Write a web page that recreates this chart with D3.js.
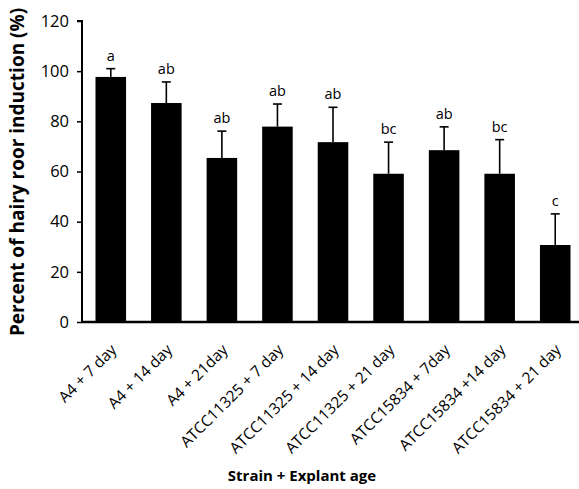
<!DOCTYPE html>
<html>
<head>
<meta charset="utf-8">
<script src="https://cdn.jsdelivr.net/npm/d3@7"></script>
<style>
  body { margin: 0; background: #fff; }
  text { font-family: "Open Sans", sans-serif; fill: #000; }
</style>
</head>
<body>
<div id="chart"></div>
<script>
// values
var groups = ['A4 + 7 day', 'A4 + 14 day', 'A4 + 21day', 'ATCC11325 + 7 day',
    'ATCC11325 + 14 day', 'ATCC11325 + 21 day', 'ATCC15834 + 7day',
    'ATCC15834 +14 day', 'ATCC15834 + 21 day'];
var means = [97.7, 87.3, 65.4, 77.9, 71.7, 59.1, 68.5, 59.1, 30.7];
var errors = [3.3, 8.4, 10.7, 9.0, 13.9, 12.6, 9.3, 13.6, 12.4];
var letters = ['a', 'ab', 'ab', 'ab', 'ab', 'bc', 'ab', 'bc', 'c'];
var yTicks = [0, 20, 40, 60, 80, 100, 120];

var W = 579, H = 489;

var svg = d3.select('#chart')
    .append('svg')
    .attr('width', W)
    .attr('height', H);

var x = d3.scaleBand()
    .domain(groups)
    .range([83, 583])
    .paddingInner(0.45)
    .paddingOuter(0.225);

var y = d3.scaleLinear()
    .domain([0, 120])
    .range([322, 21]);

var rows = groups.map(function (g, i) {
    return { name: g, mean: means[i], err: errors[i], letter: letters[i] };
});

// bars
svg.append('g')
    .selectAll('rect')
    .data(rows)
    .enter()
    .append('rect')
    .attr('x', function (d) { return x(d.name); })
    .attr('y', function (d) { return y(d.mean); })
    .attr('width', x.bandwidth())
    .attr('height', function (d) { return y(0) - y(d.mean); })
    .attr('fill', '#000');

// upper error bars
var eb = svg.append('g')
    .attr('stroke', '#000')
    .attr('stroke-width', 1.6);

eb.selectAll('line.stem')
    .data(rows)
    .enter()
    .append('line')
    .attr('class', 'stem')
    .attr('x1', function (d) { return x(d.name) + x.bandwidth() / 2; })
    .attr('x2', function (d) { return x(d.name) + x.bandwidth() / 2; })
    .attr('y1', function (d) { return y(d.mean); })
    .attr('y2', function (d) { return y(d.mean + d.err); });

eb.selectAll('line.cap')
    .data(rows)
    .enter()
    .append('line')
    .attr('class', 'cap')
    .attr('x1', function (d) { return x(d.name) + x.bandwidth() / 2 - 4.5; })
    .attr('x2', function (d) { return x(d.name) + x.bandwidth() / 2 + 4.5; })
    .attr('y1', function (d) { return y(d.mean + d.err); })
    .attr('y2', function (d) { return y(d.mean + d.err); });

// significance letters
svg.append('g')
    .selectAll('text')
    .data(rows)
    .enter()
    .append('text')
    .attr('x', function (d) { return x(d.name) + x.bandwidth() / 2; })
    .attr('y', function (d) { return y(d.mean + d.err) - 8; })
    .attr('text-anchor', 'middle')
    .style('font-size', '14.5px')
    .text(function (d) { return d.letter; });

// y axis
var yAxis = svg.append('g')
    .attr('transform', 'translate(82,0)')
    .call(d3.axisLeft(y).tickValues(yTicks).tickSize(5).tickPadding(8));
yAxis.select('.domain').attr('stroke-width', 2).attr('d', 'M-5,' + y(120) + 'H0V' + y(0));
yAxis.selectAll('.tick line').attr('stroke-width', 1.5);
yAxis.selectAll('.tick text')
    .style('font-size', '16.5px')
    .style('font-family', '"Open Sans", sans-serif');

// x axis
var xAxis = svg.append('g')
    .attr('transform', 'translate(0,' + y(0) + ')')
    .call(d3.axisBottom(x).tickSize(0).tickPadding(0));
xAxis.select('.domain').attr('stroke-width', 2.5).attr('d', 'M82,0H579');
xAxis.selectAll('.tick text')
    .attr('text-anchor', 'end')
    .attr('dy', '0.35em')
    .attr('transform', 'translate(3,25) rotate(-45)')
    .style('font-size', '15.5px')
    .style('font-family', '"Open Sans", sans-serif');

// axis titles
svg.append('text')
    .attr('transform', 'translate(24,172) rotate(-90)')
    .attr('text-anchor', 'middle')
    .style('font-size', '19px')
    .style('font-weight', 'bold')
    .text('Percent of hairy roor induction (%)');

svg.append('text')
    .attr('x', 302)
    .attr('y', 481)
    .attr('text-anchor', 'middle')
    .style('font-size', '15px')
    .style('font-weight', 'bold')
    .text('Strain + Explant age');
</script>
</body>
</html>
